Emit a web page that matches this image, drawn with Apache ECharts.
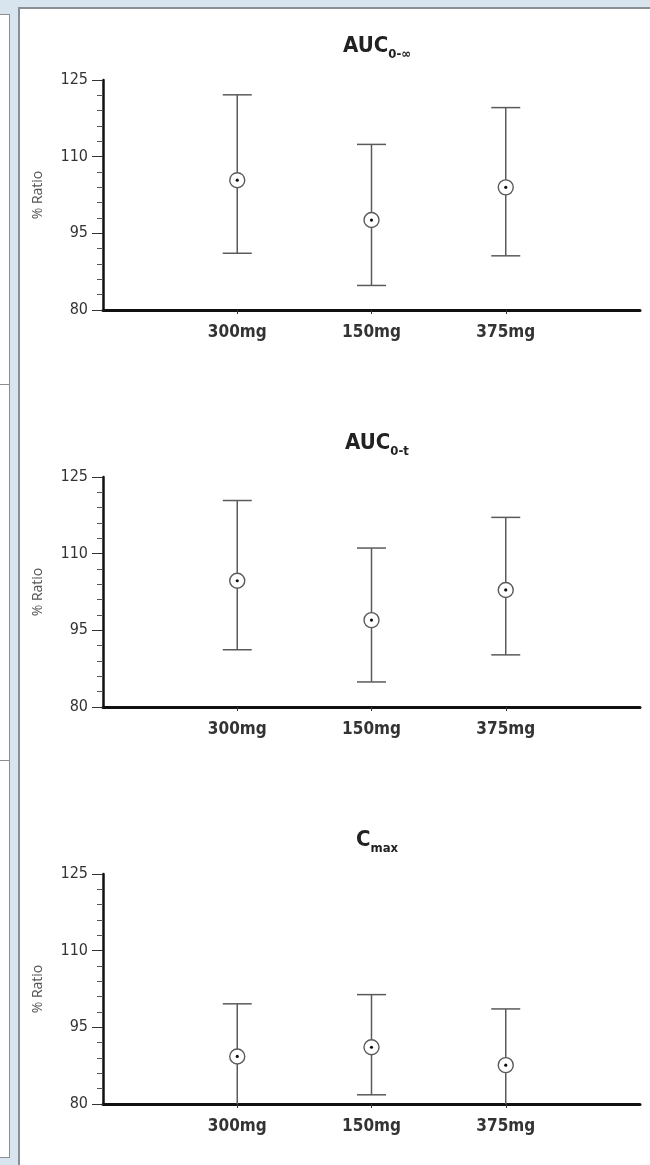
<!DOCTYPE html>
<html>
<head>
<meta charset="utf-8">
<script src="https://cdn.jsdelivr.net/npm/echarts@6/dist/echarts.min.js"></script>
<style>
  html, body { margin: 0; padding: 0; background: #d9e5ee; }
  #wrap { position: relative; width: 650px; height: 1165px; overflow: hidden; }
  .side { position: absolute; left: -2px; width: 10px; background: #fff; border: 1px solid #8a8f94; }
  #panel { position: absolute; left: 18px; top: 7px; width: 640px; height: 1170px; background: #fff;
           border-left: 2px solid #8a8f94; border-top: 2px solid #8a8f94; }
  #chart { position: absolute; left: 0; top: 0; width: 650px; height: 1165px; }
</style>
</head>
<body>
<div id="wrap">
  <div class="side" style="top:14px;height:369px;"></div>
  <div class="side" style="top:384px;height:375px;"></div>
  <div class="side" style="top:760px;height:396px;"></div>
  <div id="panel"></div>
  <div id="chart"></div>
</div>
<script>
// dose groups on the x axis (empty slots at both ends give the spacing)
const doses = ['300mg', '150mg', '375mg'];
const xCategories = ['', ...doses, ''];

// % ratio (test/reference) point estimate with 90% CI
const aucInfMid = [105.4, 97.6, 104.0];
const aucInfLow = [91.1, 84.8, 90.6];
const aucInfHigh = [122.1, 112.4, 119.6];

const aucTMid = [104.7, 97.0, 102.9];
const aucTLow = [91.2, 84.9, 90.2];
const aucTHigh = [120.4, 111.1, 117.1];

const cmaxMid = [89.3, 91.1, 87.6];
const cmaxLow = [80.0, 81.8, 77.8];
const cmaxHigh = [99.6, 101.4, 98.6];

const yMin = 80;
const yMax = 125;
const yStep = 15;

const panels = [
  { title: '{b|AUC}{s|0-∞}', mid: aucInfMid, low: aucInfLow, high: aucInfHigh },
  { title: '{b|AUC}{s|0-t}', mid: aucTMid, low: aucTLow, high: aucTHigh },
  { title: '{b|C}{s|max}', mid: cmaxMid, low: cmaxLow, high: cmaxHigh },
];

const gridTops = [80, 477, 874];
const narrow = "'Liberation Sans Narrow', 'DejaVu Sans Condensed', sans-serif";
const barColor = '#5a5a5a';

const renderErrorBar = (params, api) => {
  const x = api.value(0);
  const lowVal = api.value(1);
  const midVal = api.value(2);
  const highVal = api.value(3);
  const top = api.coord([x, highVal]);
  const mid = api.coord([x, midVal]);
  const bottomClipped = lowVal <= yMin;
  const bottom = api.coord([x, Math.max(lowVal, yMin)]);
  const capHalf = 14.5;
  const lineStyle = { stroke: barColor, lineWidth: 1.5 };
  const children = [
    { type: 'line', shape: { x1: top[0], y1: top[1], x2: bottom[0], y2: bottom[1] }, style: lineStyle },
    { type: 'line', shape: { x1: top[0] - capHalf, y1: top[1], x2: top[0] + capHalf, y2: top[1] }, style: lineStyle },
  ];
  if (!bottomClipped) {
    children.push({ type: 'line', shape: { x1: bottom[0] - capHalf, y1: bottom[1], x2: bottom[0] + capHalf, y2: bottom[1] }, style: lineStyle });
  }
  children.push(
    { type: 'circle', shape: { cx: mid[0], cy: mid[1], r: 7.5 }, style: { fill: '#fff', stroke: barColor, lineWidth: 1.4 } },
    { type: 'circle', shape: { cx: mid[0], cy: mid[1], r: 1.6 }, style: { fill: '#111' } }
  );
  return { type: 'group', children };
};

const chart = echarts.init(document.getElementById('chart'));

chart.setOption({
  animation: false,
  backgroundColor: 'transparent',
  title: panels.map((p, i) => ({
    text: p.title,
    left: 372,
    textAlign: 'center',
    top: gridTops[i] - 50,
    textStyle: {
      rich: {
        b: { fontFamily: narrow, fontWeight: 'bold', fontSize: 22, color: '#222', verticalAlign: 'top', lineHeight: 24 },
        s: { fontFamily: narrow, fontWeight: 'bold', fontSize: 13, color: '#222', verticalAlign: 'bottom', lineHeight: 26 },
      },
    },
  })),
  grid: gridTops.map((t) => ({ left: 103, top: t, width: 537, height: 230 })),
  xAxis: gridTops.map((t, i) => ({
    type: 'category',
    gridIndex: i,
    data: xCategories,
    boundaryGap: false,
    axisLine: { lineStyle: { color: '#111', width: 3 } },
    axisTick: {
      show: true,
      interval: (idx) => idx >= 1 && idx <= doses.length,
      length: 4,
      lineStyle: { color: '#333', width: 1 },
    },
    axisLabel: {
      interval: 0,
      margin: 14,
      fontFamily: narrow,
      fontWeight: 'bold',
      fontSize: 17,
      color: '#333',
    },
    splitLine: { show: false },
  })),
  yAxis: gridTops.map((t, i) => ({
    type: 'value',
    gridIndex: i,
    min: yMin,
    max: yMax,
    interval: yStep,
    name: '% Ratio',
    nameLocation: 'middle',
    nameGap: 58,
    nameTextStyle: { fontFamily: 'Open Sans, sans-serif', fontSize: 14, color: '#555' },
    axisLine: { show: true, onZero: false, lineStyle: { color: '#111', width: 2.5 } },
    axisTick: { show: true, length: 11, lineStyle: { color: '#333', width: 1 } },
    minorTick: { show: true, splitNumber: 5, length: 6, lineStyle: { color: '#555', width: 1 } },
    axisLabel: { margin: 15, fontFamily: narrow, fontSize: 16, color: '#333' },
    splitLine: { show: false },
    minorSplitLine: { show: false },
  })),
  series: panels.map((p, i) => ({
    type: 'custom',
    xAxisIndex: i,
    yAxisIndex: i,
    renderItem: renderErrorBar,
    encode: { x: 0, y: [1, 2, 3] },
    data: doses.map((d, k) => [k + 1, p.low[k], p.mid[k], p.high[k]]),
    z: 5,
  })),
});
</script>
</body>
</html>
